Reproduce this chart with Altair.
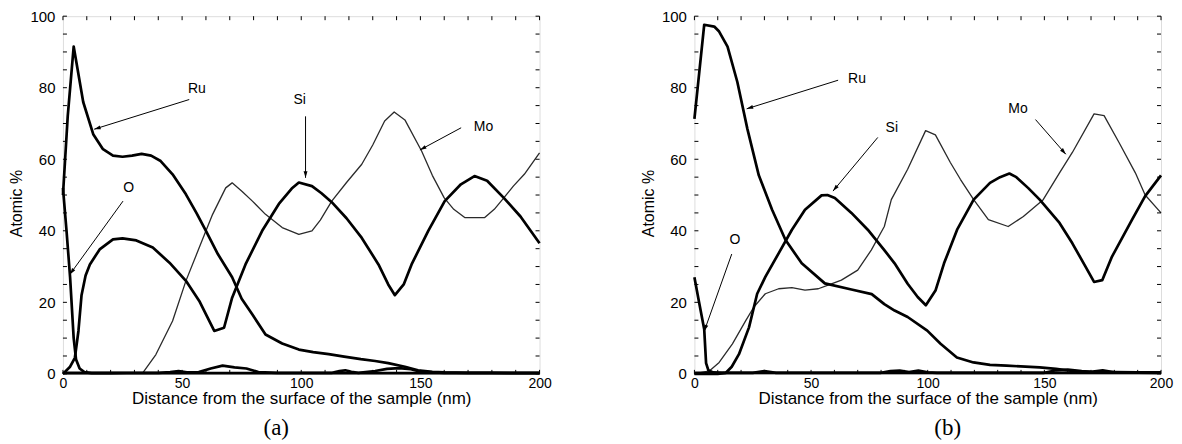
import math
import altair as alt
import pandas as pd

# ---------------- Panel (a) data ----------------
ru_a_x = [0, 2, 4.5, 8.5, 12.7, 16.8, 21, 25, 29, 33, 37, 41, 46, 51.6, 56, 60, 65, 71, 75, 79.5, 85, 92, 99, 105,
          111.5, 118, 125, 131, 136.5, 143.5, 149, 155, 160, 170, 180, 190, 200]
ru_a_y = [50, 72, 91.5, 76, 67, 62.8, 61, 60.7, 61, 61.5, 61, 59.5, 55.8, 50.2, 45, 40, 33.5, 27, 21, 16.6, 11, 8.5,
          6.8, 6.1, 5.5, 4.8, 4.1, 3.6, 3.0, 2.0, 1.0, 0.6, 0.4, 0.3, 0.3, 0.2, 0.2]

si_a_x = [0, 3, 5, 6.5, 7.8, 9.5, 11.3, 15.4, 21, 25, 30.8, 37.7, 44.7, 51.6, 57.2, 60.5, 63.5, 67.6, 71, 76.6, 83.6,
          90.6, 96, 99, 104.5, 108.5, 112.8, 119, 125.4, 132.4, 136.5, 139.3, 143, 146.3, 153.3, 160.2, 167, 172.7,
          178, 185, 192, 200]
si_a_y = [0, 2, 4.5, 12, 22, 27.5, 30.6, 34.8, 37.6, 37.9, 37.3, 35.3, 31.1, 26, 20.4, 16, 12, 12.9, 21.3, 30.6, 40,
          47.5, 51.8, 53.5, 52.5, 50.5, 48, 43.5, 38, 30.6, 25, 22, 25, 30.6, 40, 48.3, 53, 55.3, 54, 49.2, 44, 36.5]

mo_a_x = [0, 20, 33.5, 39, 46, 51.6, 57.2, 62.8, 68.3, 71, 75.2, 79.5, 85, 92, 99, 104.5, 108, 112.8, 119, 125.4,
          130, 135, 139, 143.5, 150.5, 155, 160, 164, 168.6, 177, 181, 185, 189, 193.6, 200]
mo_a_y = [0, 0, 0.3, 5.4, 14.8, 26, 35.3, 44.6, 52, 53.4, 51, 48.3, 44.6, 40.9, 39, 40, 43, 48.3, 53.5, 58.6, 64,
          70.7, 73.2, 71, 62.3, 55.5, 49.2, 46, 43.7, 43.7, 46, 49.2, 52.5, 55.8, 61.8]

o_a_x = [0, 1.5, 3, 4.5, 5.5, 7, 9, 12, 30, 60, 90, 120, 150, 200]
o_a_y = [52, 40, 27, 10, 4, 1.5, 0.5, 0.2, 0.2, 0.2, 0.2, 0.2, 0.2, 0.2]

c_a_x = [0, 40, 45, 48.5, 52, 57, 62, 67, 72, 77, 82, 90, 113, 116, 118.5, 121, 124, 131, 136, 141, 146, 150, 160, 200]
c_a_y = [0.3, 0.3, 0.5, 0.8, 0.4, 0.5, 1.5, 2.3, 1.8, 1.5, 0.5, 0.3, 0.3, 0.8, 1.0, 0.6, 0.3, 0.8, 1.4, 1.6, 1.3,
         0.6, 0.3, 0.3]

# ---------------- Panel (b) data ----------------
ru_b_x = [0, 2.1, 4.2, 8.5, 10.6, 14.2, 18.4, 22.7, 27.6, 33.3, 39, 46, 55.9, 67.3, 76, 81.4, 85.8, 91.4, 99.8,
          105.5, 112.5, 119.6, 126.7, 133.8, 148, 155, 162, 170, 180, 190, 200]
ru_b_y = [71.3, 84.4, 97.6, 97.1, 95.7, 91.5, 81.6, 68.5, 55.5, 45.9, 37.5, 30.9, 25.3, 23.6, 22.3, 19.5, 17.7, 15.9,
          12.1, 8.4, 4.6, 3.2, 2.5, 2.3, 1.8, 1.4, 0.8, 0.6, 0.5, 0.4, 0.4]

si_b_x = [0, 10, 13.5, 16, 19.1, 23.4, 26.9, 30.4, 36.1, 41.8, 47.4, 54.5, 57, 60.2, 67.3, 74.3, 81.4, 85.8, 91.4,
          95.7, 99.2, 103.4, 107, 112.6, 119.7, 126.7, 131, 135, 138, 143, 148, 156.5, 162, 167.7, 171.3, 174.8,
          179, 187.6, 193.2, 200]
si_b_y = [0, 0, 0.3, 2, 5.5, 13, 22.4, 27.1, 33.7, 40.3, 45.9, 49.9, 50, 49.2, 45, 40.3, 34.6, 30.9, 25.2, 21.5,
          19.2, 23.4, 30.9, 40.3, 48.7, 53.4, 55, 56, 55, 52, 48.7, 42.2, 36.5, 29.9, 25.7, 26.2, 32.8, 43.1, 49.7,
          55.5]

mo_b_x = [0, 6.4, 10.6, 16.3, 22, 25.5, 30.4, 36.1, 41.8, 47.4, 53.1, 57.3, 63, 70, 75.8, 81.4, 84.4, 91.4, 99.1,
          103.3, 109.7, 114, 119.7, 126, 134.5, 141, 149.5, 156.5, 162, 171.3, 175.6, 182, 189, 193.2, 200]
mo_b_y = [0, 0.8, 3.2, 8.4, 14.9, 18.7, 22.4, 23.8, 24.1, 23.4, 23.8, 24.8, 26.2, 29, 34.6, 41.2, 48.7, 57.2, 68,
          66.8, 59.1, 54.4, 48.7, 43.1, 41.2, 44, 48.7, 56.2, 61.9, 72.7, 72.2, 64.7, 56.2, 50, 45]

o_b_x = [0, 2, 4.2, 5, 6, 8, 12, 40, 80, 120, 160, 200]
o_b_y = [27, 20, 12.5, 3, 1, 0.4, 0.3, 0.3, 0.3, 0.3, 0.3, 0.3]

c_b_x = [0, 25, 30, 35, 80, 84, 88, 92, 96, 100, 104, 150, 155, 160, 166, 170, 175, 180, 200]
c_b_y = [0.3, 0.3, 0.8, 0.3, 0.3, 0.8, 0.9, 0.5, 0.9, 0.4, 0.3, 0.3, 1.0, 1.2, 0.8, 0.6, 1.0, 0.4, 0.3]

# ---------------- Annotations ----------------
labels_a = ["Ru", "Si", "Mo", "O"]
label_a_x = [56.2, 99.3, 176.5, 27.6]
label_a_y = [79.7, 76.6, 69, 52]
arrow_a_x1 = [53, 101.8, 167.1, 25.2]
arrow_a_y1 = [76.7, 72, 68.8, 48.3]
arrow_a_x2 = [13.1, 101.8, 149.8, 2.9]
arrow_a_y2 = [68.4, 54.8, 62.6, 27.8]

labels_b = ["Ru", "Si", "Mo", "O"]
label_b_x = [69.7, 84.6, 138.7, 17.4]
label_b_y = [82.3, 68.7, 74.1, 37.5]
arrow_b_x1 = [61.6, 78.6, 146.2, 16]
arrow_b_y1 = [82.1, 66.1, 71.1, 33.5]
arrow_b_x2 = [22.4, 59.4, 159.2, 4.2]
arrow_b_y2 = [74.1, 51.1, 61.4, 11.9]

x_ticks = [0, 50, 100, 150, 200]
y_ticks = [0, 20, 40, 60, 80, 100]
x_minor = list(range(0, 201, 10))
y_minor = list(range(0, 101, 5))

H = 358
FONT = "Liberation Sans"
ARROW_PATH = "M0,0L-0.3,1L0.3,1Z"


def make_panel(series, thin, labels, lx, ly, ax1, ay1, ax2, ay2, width, caption, cdx):
    rows = []
    for name, (xs, ys) in series.items():
        for i, (xv, yv) in enumerate(zip(xs, ys)):
            rows.append({"el": name, "d": xv, "v": yv, "o": i})
    df = pd.DataFrame(rows)
    xs = alt.Scale(domain=[0, 200], nice=False, zero=False)
    ys = alt.Scale(domain=[0, 100], nice=False)
    xax = alt.Axis(values=x_ticks, grid=False, ticks=False, domain=False, labelFont=FONT, labelFontSize=14,
                   labelColor="black", labelPadding=3, labelFlush=False,
                   title="Distance from the surface of the sample (nm)", titleFont=FONT, titleFontSize=17,
                   titleFontWeight="normal", titleColor="black", titleY=30, titleBaseline="alphabetic")
    yax = alt.Axis(values=y_ticks, grid=False, ticks=False, domain=False, labelFont=FONT, labelFontSize=15,
                   labelColor="black", labelPadding=8, labelFlush=False,
                   title="Atomic %", titleFont=FONT, titleFontSize=16, titleFontWeight="normal",
                   titleColor="black", titleX=-46, titleY=187, titleBaseline="middle", titleAlign="center",
                   titleAngle=270)
    base = alt.Chart(df)
    thick = base.transform_filter(alt.FieldOneOfPredicate(field="el", oneOf=[k for k in series if k not in thin])).mark_line(
        color="black", strokeWidth=2.7, strokeJoin="round").encode(
        x=alt.X("d:Q", scale=xs, axis=xax),
        y=alt.Y("v:Q", scale=ys, axis=yax),
        detail="el:N", order="o:Q")
    thinl = base.transform_filter(alt.FieldOneOfPredicate(field="el", oneOf=thin)).mark_line(
        color="#2a2a2a", strokeWidth=1.3, strokeJoin="round").encode(
        x=alt.X("d:Q", scale=xs), y=alt.Y("v:Q", scale=ys), detail="el:N", order="o:Q")

    ann = pd.DataFrame({"t": labels, "x": lx, "y": ly, "x1": ax1, "y1": ay1, "x2": ax2, "y2": ay2})
    angs = []
    for a, b, c, d in zip(ax1, ay1, ax2, ay2):
        dxp = (c - a) * width / 200.0
        dyp = -(d - b) * H / 100.0
        angs.append(math.degrees(math.atan2(dxp, -dyp)) % 360)
    ann["ang"] = angs
    annb = alt.Chart(ann)
    texts = annb.mark_text(font=FONT, fontSize=14, color="black").encode(
        x=alt.X("x:Q", scale=xs), y=alt.Y("y:Q", scale=ys), text="t:N")
    rules = annb.mark_rule(color="black", strokeWidth=1).encode(
        x=alt.X("x1:Q", scale=xs), y=alt.Y("y1:Q", scale=ys), x2="x2:Q", y2="y2:Q")
    heads = annb.mark_point(shape=ARROW_PATH, filled=True, size=170, color="black", opacity=1, strokeWidth=0).encode(
        x=alt.X("x2:Q", scale=xs), y=alt.Y("y2:Q", scale=ys), angle=alt.Angle("ang:Q", scale=None))

    yt = alt.Chart(pd.DataFrame({"v": y_minor}))
    xt = alt.Chart(pd.DataFrame({"d": x_minor}))
    tl = yt.mark_rule(color="black", strokeWidth=1).encode(y=alt.Y("v:Q", scale=ys), x=alt.value(0), x2=alt.value(4))
    tr = yt.mark_rule(color="black", strokeWidth=1).encode(y=alt.Y("v:Q", scale=ys), x=alt.value(width - 4), x2=alt.value(width))
    tt = xt.mark_rule(color="black", strokeWidth=1).encode(x=alt.X("d:Q", scale=xs), y=alt.value(0), y2=alt.value(4))
    tb = xt.mark_rule(color="black", strokeWidth=1).encode(x=alt.X("d:Q", scale=xs), y=alt.value(H - 4), y2=alt.value(H))

    return alt.layer(thinl, thick, tl, tr, tt, tb, rules, heads, texts).properties(
        width=width, height=H,
        title=alt.TitleParams(caption, orient="bottom", font="Liberation Serif", fontSize=23,
                              fontWeight="normal", color="black", dx=cdx, offset=10))


panel_a = make_panel({"Ru": (ru_a_x, ru_a_y), "Si": (si_a_x, si_a_y), "Mo": (mo_a_x, mo_a_y),
                      "O": (o_a_x, o_a_y), "C": (c_a_x, c_a_y)}, ["Mo"],
                     labels_a, label_a_x, label_a_y, arrow_a_x1, arrow_a_y1, arrow_a_x2, arrow_a_y2,
                     477, "(a)", -25)
panel_b = make_panel({"Ru": (ru_b_x, ru_b_y), "Si": (si_b_x, si_b_y), "Mo": (mo_b_x, mo_b_y),
                      "O": (o_b_x, o_b_y), "C": (c_b_x, c_b_y)}, ["Mo"],
                     labels_b, label_b_x, label_b_y, arrow_b_x1, arrow_b_y1, arrow_b_x2, arrow_b_y2,
                     467, "(b)", 20)

chart = alt.hconcat(panel_a, panel_b, spacing=155, bounds="flush").properties(
    padding={"left": 0, "top": 0, "right": 0, "bottom": 0}
).configure_view(stroke="black", strokeWidth=1.5).configure(background="white")

chart.save("out.html", embed_options={"renderer": "svg", "actions": False})
